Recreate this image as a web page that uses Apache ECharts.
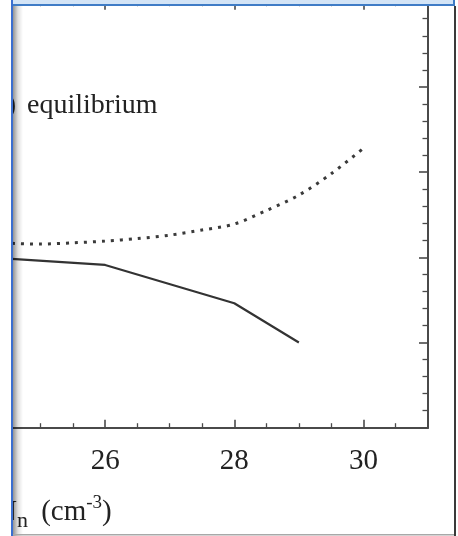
<!DOCTYPE html>
<html>
<head>
<meta charset="utf-8">
<style>
  html, body { margin: 0; padding: 0; background: #fff; }
  #chart { width: 458px; height: 536px; }
</style>
<script src="https://cdn.jsdelivr.net/npm/echarts@6/dist/echarts.min.js"></script>
</head>
<body>
<div id="chart"></div>
<script>
// Neutral density N_n (cm^-3) on the horizontal axis
const xTicks = [24, 26, 28, 30];

// Solid curve
const solidX = [24, 26, 28, 29];
const solidY = [2.01, 1.91, 1.46, 1.0];

// Dotted curve (equilibrium)
const dottedX = [24, 24.5, 25, 25.5, 26, 26.5, 27, 27.5, 28, 28.5, 29, 29.5, 30];
const dottedY = [2.18, 2.165, 2.155, 2.17, 2.19, 2.22, 2.26, 2.32, 2.39, 2.55, 2.73, 2.98, 3.28];

const SERIF = '"Liberation Serif", "DejaVu Serif", serif';
const INK = '#222';
const AXIS = '#4a4a4a';

function pairs(xs, ys) { return xs.map((x, i) => [x, ys[i]]); }

const chart = echarts.init(document.getElementById('chart'), null, { renderer: 'canvas' });

const baseX = {
  type: 'value', min: xTicks[0], max: 31, interval: 2,
  axisLine: { show: true, onZero: false, lineStyle: { color: AXIS, width: 2 } },
  axisTick: { show: true, inside: true, length: 8, lineStyle: { color: AXIS, width: 1.6 } },
  minorTick: { show: true, splitNumber: 4, length: 4.5, lineStyle: { color: AXIS, width: 1.3 } },
  splitLine: { show: false }
};
const baseY = {
  type: 'value', min: 0, max: 5, interval: 1,
  axisLine: { show: true, onZero: false, lineStyle: { color: AXIS, width: 2 } },
  axisTick: { show: true, inside: true, length: 9, lineStyle: { color: AXIS, width: 1.6 } },
  minorTick: { show: true, splitNumber: 5, length: 5.5, lineStyle: { color: AXIS, width: 1.3 } },
  splitLine: { show: false },
  axisLabel: { show: false }
};

chart.setOption({
  animation: false,
  backgroundColor: '#fff',
  grid: { left: -24, right: 30, top: 1.7, bottom: 108.3, outerBoundsMode: 'none' },
  xAxis: [
    Object.assign({}, baseX, {
      position: 'bottom',
      axisLabel: {
        show: true, margin: 19, color: INK, fontFamily: SERIF, fontSize: 29,
        showMaxLabel: false,
        formatter: v => (xTicks.indexOf(v) >= 0 ? String(v) : '')
      }
    }),
    Object.assign({}, baseX, { position: 'top', axisLabel: { show: false } })
  ],
  yAxis: [
    Object.assign({}, baseY, { position: 'left' }),
    Object.assign({}, baseY, { position: 'right' })
  ],
  series: [
    {
      type: 'line', xAxisIndex: 0, yAxisIndex: 0,
      data: pairs(solidX, solidY),
      symbol: 'none',
      lineStyle: { color: '#333', width: 2.2 }
    },
    {
      type: 'line', xAxisIndex: 0, yAxisIndex: 0,
      data: pairs(dottedX, dottedY),
      symbol: 'none', smooth: 0.3,
      lineStyle: { color: '#3a3a3a', width: 3, type: [3, 6], cap: 'butt' }
    }
  ],
  graphic: [
    // panel label
    {
      type: 'text', x: 27, y: 106, z: 50,
      style: { text: 'equilibrium', fill: INK, font: '28px ' + SERIF, align: 'left', verticalAlign: 'middle' }
    },
    {
      type: 'text', x: 16, y: 106, z: 50,
      style: { text: '(b)', fill: INK, font: '28px ' + SERIF, align: 'right', verticalAlign: 'middle' }
    },
    // horizontal axis title
    {
      type: 'text', x: -4, y: 512, z: 50,
      style: {
        text: '{a|N}{b|n}{a| (cm}{c|-3}{a|)}',
        align: 'left', verticalAlign: 'middle',
        rich: {
          a: { fill: INK, fontFamily: SERIF, fontSize: 29 },
          b: { fill: INK, fontFamily: SERIF, fontSize: 22, padding: [18, 6, 0, 0] },
          c: { fill: INK, fontFamily: SERIF, fontSize: 19, padding: [0, 0, 18, 0] }
        }
      }
    },
    // window frame around the panel
    { type: 'rect', z: 100, shape: { x: 0, y: 0, width: 11, height: 536 }, style: { fill: '#fff' } },
    { type: 'rect', z: 100, shape: { x: 456, y: 0, width: 2, height: 536 }, style: { fill: '#fff' } },
    {
      type: 'rect', z: 100, shape: { x: 13, y: 0, width: 10, height: 536 },
      style: {
        fill: new echarts.graphic.LinearGradient(0, 0, 1, 0, [
          { offset: 0, color: 'rgba(0,0,0,0.42)' },
          { offset: 0.5, color: 'rgba(0,0,0,0.12)' },
          { offset: 1, color: 'rgba(0,0,0,0)' }
        ])
      }
    },
    { type: 'rect', z: 101, shape: { x: 11, y: 0, width: 444, height: 4 }, style: { fill: '#d3e4f6' } },
    { type: 'rect', z: 101, shape: { x: 11, y: 4, width: 444, height: 2 }, style: { fill: '#3f7cc6' } },
    { type: 'rect', z: 101, shape: { x: 453, y: 0, width: 2, height: 5 }, style: { fill: '#3f7cc6' } },
    { type: 'rect', z: 101, shape: { x: 11, y: 0, width: 2, height: 536 }, style: { fill: '#3b6fd0' } },
    { type: 'rect', z: 101, shape: { x: 454, y: 6, width: 2, height: 530 }, style: { fill: '#3a3a3a' } },
    { type: 'rect', z: 101, shape: { x: 13, y: 534, width: 441, height: 1.5 }, style: { fill: '#a8a8a8' } }
  ]
});
</script>
</body>
</html>
